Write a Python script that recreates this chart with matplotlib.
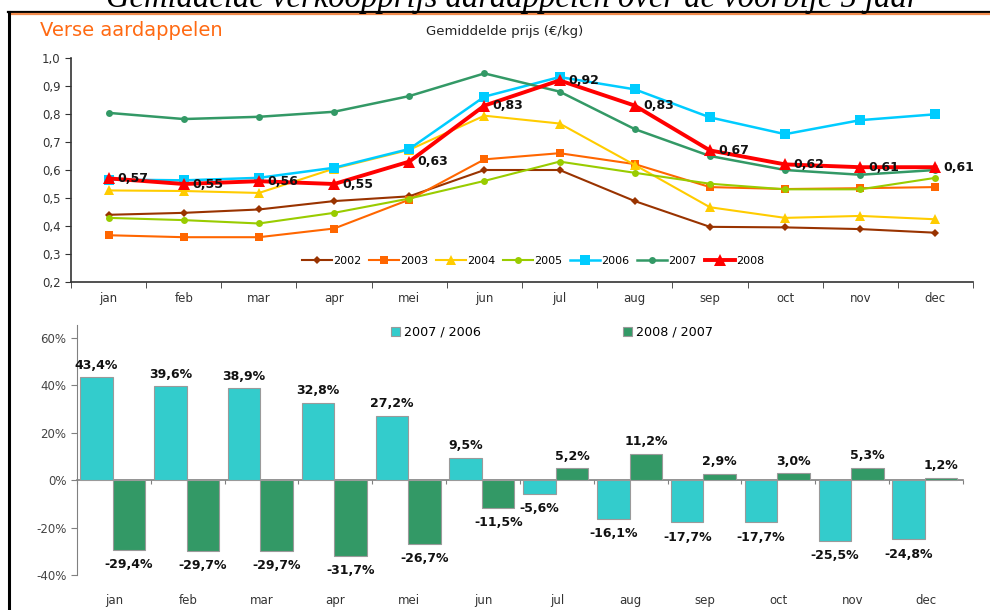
import matplotlib
matplotlib.use("Agg")
import matplotlib.pyplot as plt
from matplotlib.lines import Line2D
import numpy as np

months = ["jan", "feb", "mar", "apr", "mei", "jun", "jul", "aug", "sep", "oct", "nov", "dec"]
years = ["2002", "2003", "2004", "2005", "2006", "2007", "2008"]

p2002 = [0.44, 0.447, 0.459, 0.489, 0.506, 0.60, 0.60, 0.489, 0.397, 0.395, 0.389, 0.376]
p2003 = [0.367, 0.36, 0.36, 0.391, 0.494, 0.638, 0.66, 0.621, 0.539, 0.532, 0.535, 0.539]
p2004 = [0.527, 0.525, 0.518, 0.605, 0.672, 0.794, 0.766, 0.618, 0.467, 0.429, 0.436, 0.424]
p2005 = [0.429, 0.421, 0.409, 0.447, 0.498, 0.561, 0.630, 0.590, 0.551, 0.531, 0.531, 0.572]
p2006 = [0.566, 0.563, 0.572, 0.608, 0.675, 0.862, 0.932, 0.888, 0.788, 0.728, 0.778, 0.799]
p2007 = [0.804, 0.782, 0.790, 0.808, 0.864, 0.945, 0.880, 0.746, 0.650, 0.600, 0.583, 0.600]
p2008 = [0.57, 0.55, 0.56, 0.55, 0.63, 0.83, 0.92, 0.83, 0.67, 0.62, 0.61, 0.61]

chg_07_06 = [43.4, 39.6, 38.9, 32.8, 27.2, 9.5, -5.6, -16.1, -17.7, -17.7, -25.5, -24.8]
chg_08_07 = [-29.4, -29.7, -29.7, -31.7, -26.7, -11.5, 5.2, 11.2, 2.9, 3.0, 5.3, 1.2]
bar_labels = ["2007 / 2006", "2008 / 2007"]

W, H = 990, 610
fig = plt.figure(figsize=(W / 100, H / 100), dpi=100)
plt.rcParams["font.family"] = ["DejaVu Sans"]

def fx(px):
    return px / W

def fy(py):
    return 1 - py / H

# page title (cut off at the top, as in the reference)
fig.text(fx(513), fy(7), "Gemiddelde verkoopprijs aardappelen over de voorbije 5 jaar",
         family="Liberation Serif", style="italic", fontsize=23.5, ha="center", va="baseline",
         color="black")

# frame lines
fig.add_artist(Line2D([fx(8), 1], [fy(12), fy(12)], color="black", lw=1.6, transform=fig.transFigure))
fig.add_artist(Line2D([fx(10), 1], [fy(14.3), fy(14.3)], color="#F28C4E", lw=1.6, transform=fig.transFigure))
fig.add_artist(Line2D([fx(9), fx(9)], [fy(11.5), 0], color="black", lw=2.2, transform=fig.transFigure))

fig.text(fx(40), fy(30), "Verse aardappelen", color="#FF6A13", fontsize=14, ha="left", va="center")
fig.text(fx(505), fy(32), "Gemiddelde prijs (€/kg)", color="#222222", fontsize=9.5, ha="center", va="center")

# ---------- top line chart ----------
ax1 = fig.add_axes([fx(71), fy(282), fx(973 - 71), (282 - 58) / H])
x = np.arange(len(months))
styles = {
    "2002": dict(color="#993300", marker="D", ms=4.5, lw=1.5),
    "2003": dict(color="#FF6600", marker="s", ms=6, lw=1.5),
    "2004": dict(color="#FFCC00", marker="^", ms=6.5, lw=1.5),
    "2005": dict(color="#99CC00", marker="o", ms=5, lw=1.5),
    "2006": dict(color="#00CCFF", marker="s", ms=7, lw=1.8),
    "2007": dict(color="#339966", marker="o", ms=5, lw=1.8),
    "2008": dict(color="#FF0000", marker="^", ms=9, lw=2.8),
}
series = [p2002, p2003, p2004, p2005, p2006, p2007, p2008]
for yr, vals in zip(years, series):
    st = styles[yr]
    ax1.plot(x, vals, color=st["color"], marker=st["marker"], markersize=st["ms"],
             lw=st["lw"], markeredgewidth=0, label=yr)

for xi, v in zip(x, p2008):
    ax1.annotate(f"{v:.2f}".replace(".", ","), (xi, v), xytext=(6, 0), textcoords="offset points",
                 ha="left", va="center", fontsize=9, fontweight="bold", color="#111111")

ax1.set_xlim(-0.5, 11.5)
ax1.set_ylim(0.2, 1.0)
yt = np.round(np.arange(0.2, 1.01, 0.1), 1)
ax1.set_yticks(yt)
ax1.set_yticklabels([f"{v:.1f}".replace(".", ",") for v in yt])
ax1.set_xticks(x)
ax1.set_xticklabels(months)
ax1.set_xticks(np.arange(-0.5, 12, 1), minor=True)
ax1.tick_params(axis="x", which="major", length=0, pad=7, labelsize=8.5, colors="#333333")
ax1.tick_params(axis="x", which="minor", length=4, color="#333333")
ax1.tick_params(axis="y", length=4.5, pad=3, labelsize=8.5, colors="#333333")
for s in ["top", "right"]:
    ax1.spines[s].set_visible(False)
for s in ["left", "bottom"]:
    ax1.spines[s].set_color("#333333")
    ax1.spines[s].set_linewidth(1.2)
ax1.patch.set_alpha(0)

ax1.legend(loc="center", bbox_to_anchor=(fx(533), fy(261)), bbox_transform=fig.transFigure,
           ncol=7, frameon=False, fontsize=8, handlelength=2.7, handletextpad=0.1,
           columnspacing=0.7)

# ---------- bottom bar chart ----------
ax2 = fig.add_axes([fx(77), fy(575.3), fx(963 - 77), (575.3 - 325) / H])
w = 0.44
b1 = ax2.bar(x - 0.235, chg_07_06, width=w, color="#33CCCC", edgecolor="#9a9a9a", lw=0.8,
             label=bar_labels[0], zorder=2)
b2 = ax2.bar(x + 0.205, chg_08_07, width=w, color="#339966", edgecolor="#9a9a9a", lw=0.8,
             label=bar_labels[1], zorder=2)

for bars, vals in ((b1, chg_07_06), (b2, chg_08_07)):
    for rect, v in zip(bars, vals):
        cx = rect.get_x() + rect.get_width() / 2
        txt = f"{v:.1f}%".replace(".", ",")
        if v >= 0:
            ax2.annotate(txt, (cx, v), xytext=(0, 4), textcoords="offset points",
                         ha="center", va="bottom", fontsize=9, fontweight="bold", color="#111111")
        else:
            ax2.annotate(txt, (cx, v), xytext=(0, -6), textcoords="offset points",
                         ha="center", va="top", fontsize=9, fontweight="bold", color="#111111")

ax2.set_xlim(-0.5, 11.5)
ax2.set_ylim(-40, 65.5)
ax2.set_yticks([-40, -20, 0, 20, 40, 60])
ax2.set_yticklabels(["-40%", "-20%", "0%", "20%", "40%", "60%"])
ax2.set_xticks(x)
ax2.set_xticklabels(months)
ax2.tick_params(axis="x", length=0, pad=13.5, labelsize=8.5, colors="#333333")
ax2.tick_params(axis="y", length=4.5, pad=3, labelsize=8.5, colors="#444444", color="#808080")
for s in ["top", "right", "bottom"]:
    ax2.spines[s].set_visible(False)
ax2.spines["left"].set_color("#808080")
ax2.patch.set_alpha(0)

zero_pos = (0 - (-40)) / (65.5 + 40)
sec = ax2.secondary_xaxis(zero_pos)
sec.set_xticks(np.arange(-0.5, 12, 1))
sec.set_xticklabels([])
sec.tick_params(length=3, color="#808080", direction="out")
sec.spines["bottom"].set_color("#808080")
sec.spines["bottom"].set_linewidth(1.2)

fig.legend(handles=[b1, b2], labels=bar_labels, loc="center", bbox_to_anchor=(fx(552), fy(332)),
           ncol=2, frameon=False, fontsize=9.2, handlelength=0.7, handleheight=0.7,
           handletextpad=0.3, columnspacing=11.1)

fig.savefig("out.png", dpi=100)
